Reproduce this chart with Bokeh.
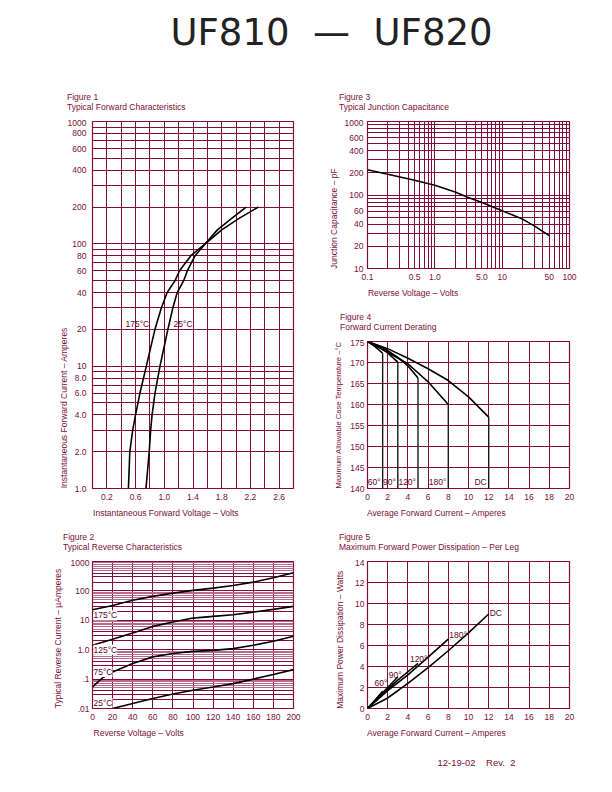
from bokeh.plotting import figure
from bokeh.models import Range1d, FixedTicker, CustomJSTickFormatter, Label, Grid, Div
from bokeh.layouts import column, row
from bokeh.embed import file_html
from bokeh.resources import INLINE
from bokeh.core.properties import value

LINE = "#800a38"
MINOR = "#b86a8c"
TXT = "#7a0f3a"
FONT = "Liberation Sans"
FS = "8.5px"

# ---------------- Figure 1: Typical Forward Characteristics ----------------
f1_current = [1, 2, 3, 4, 6, 10, 20, 30, 40, 50, 60, 80, 100, 130, 160, 200]
f1_v_175 = [0.50, 0.52, 0.56, 0.60, 0.66, 0.75, 0.87, 0.96, 1.04, 1.15, 1.21, 1.37, 1.57, 1.80, 2.03, 2.31]
f1_v_25 = [0.745, 0.79, 0.81, 0.83, 0.87, 0.94, 1.05, 1.12, 1.18, 1.27, 1.32, 1.43, 1.57, 1.74, 1.93, 2.14]
f1_curve_labels = ["175°C", "25°C"]
f1_xticks = [0.2, 0.6, 1.0, 1.4, 1.8, 2.2, 2.6]
f1_xlabels = ["0.2", "0.6", "1.0", "1.4", "1.8", "2.2", "2.6"]
f1_yticks = [1, 2, 4, 6, 8, 10, 20, 40, 60, 80, 100, 200, 400, 600, 800, 1000]
f1_ylabels = ["1.0", "2.0", "4.0", "6.0", "8.0", "10", "20", "40", "60", "80", "100", "200", "400", "600", "800", "1000"]

# ---------------- Figure 2: Typical Reverse Characteristics ----------------
f2_volts = [0, 20, 40, 60, 80, 100, 120, 140, 160, 180, 200]
f2_i_175 = [23, 32, 48, 65, 84, 104, 124, 153, 199, 279, 412]
f2_i_125 = [1.41, 2.25, 3.7, 6.2, 8.7, 11.9, 13.6, 15.5, 19, 23.5, 29.7]
f2_volts_75 = [0, 10, 20, 40, 60, 80, 100, 120, 140, 160, 180, 200]
f2_i_75 = [0.054, 0.11, 0.175, 0.34, 0.57, 0.74, 0.88, 0.95, 1.09, 1.41, 1.93, 2.85]
f2_volts_25 = [20, 40, 60, 80, 100, 120, 140, 160, 180, 200]
f2_i_25 = [0.010, 0.0148, 0.0218, 0.031, 0.042, 0.054, 0.07, 0.10, 0.143, 0.21]
f2_curve_labels = ["175°C", "125°C", "75°C", "25°C"]
f2_xticks = [0, 20, 40, 60, 80, 100, 120, 140, 160, 180, 200]
f2_xlabels = ["0", "20", "40", "60", "80", "100", "120", "140", "160", "180", "200"]
f2_yticks = [0.01, 0.1, 1, 10, 100, 1000]
f2_ylabels = [".01", ".1", "1.0", "10", "100", "1000"]

# ---------------- Figure 3: Typical Junction Capacitance ----------------
f3_volts = [0.1, 0.2, 0.5, 1.0, 2.0, 3.0, 5.0, 10, 20, 30, 50]
f3_cap = [220, 192, 159, 136, 110, 94, 79, 61, 47, 38, 28]
f3_xticks = [0.1, 0.5, 1, 5, 10, 50, 100]
f3_xlabels = ["0.1", "0.5", "1.0", "5.0", "10", "50", "100"]
f3_yticks = [10, 20, 40, 60, 100, 200, 400, 600, 1000]
f3_ylabels = ["10", "20", "40", "60", "100", "200", "400", "600", "1000"]

# ---------------- Figure 4: Forward Current Derating ----------------
f4_dc_x = [0, 2, 4, 6, 8, 10, 12]
f4_dc_y = [175, 173.3, 171.0, 168.5, 165.7, 161.8, 157.0]
f4_180_x = [0, 2, 4, 6, 8]
f4_180_y = [175, 172.4, 169.7, 165.4, 160.0]
f4_120_x = [0, 1, 2, 3, 4, 5]
f4_120_y = [175, 174.0, 172.8, 171.2, 169.2, 166.3]
f4_90_x = [0, 1, 2, 3]
f4_90_y = [175, 173.9, 172.3, 170.1]
f4_60_x = [0, 0.75, 1.5]
f4_60_y = [175, 173.8, 172.2]
f4_curve_labels = ["60°", "90°", "120°", "180°", "DC"]
f4_xticks = [0, 2, 4, 6, 8, 10, 12, 14, 16, 18, 20]
f4_xlabels = ["0", "2", "4", "6", "8", "10", "12", "14", "16", "18", "20"]
f4_yticks = [140, 145, 150, 155, 160, 165, 170, 175]
f4_ylabels = ["140", "145", "150", "155", "160", "165", "170", "175"]

# ---------------- Figure 5: Maximum Forward Power Dissipation ----------------
f5_dc_x = [0, 2, 4, 6, 8, 10, 12]
f5_dc_y = [0, 1.0, 2.4, 3.9, 5.5, 7.2, 9.0]
f5_180_x = [0, 2, 4, 6, 8]
f5_180_y = [0, 1.7, 3.2, 4.9, 6.6]
f5_120_x = [0, 1, 2, 3, 4, 5]
f5_120_y = [0, 0.95, 1.85, 2.7, 3.5, 4.3]
f5_90_x = [0, 1, 2, 3]
f5_90_y = [0, 1.0, 2.0, 3.0]
f5_60_x = [0, 0.75, 1.5]
f5_60_y = [0, 0.8, 1.65]
f5_curve_labels = ["60°", "90°", "120°", "180°", "DC"]
f5_xticks = [0, 2, 4, 6, 8, 10, 12, 14, 16, 18, 20]
f5_xlabels = ["0", "2", "4", "6", "8", "10", "12", "14", "16", "18", "20"]
f5_yticks = [0, 2, 4, 6, 8, 10, 12, 14]
f5_ylabels = ["0", "2", "4", "6", "8", "10", "12", "14"]

# Arial / Liberation Sans advance widths (1/1000 em), used to pad axis labels
ADV = {" ": 278, "\u00a0": 278, "\u2013": 556, "\u00b0": 400, "\u03bc": 576,
       "A": 667, "C": 722, "F": 611, "I": 278, "J": 500, "L": 556, "M": 833, "P": 667,
       "R": 722, "T": 611, "V": 667, "W": 944, "a": 556, "b": 556, "c": 500, "d": 556,
       "e": 556, "f": 278, "g": 556, "h": 556, "i": 222, "j": 222, "k": 500, "l": 222,
       "m": 833, "n": 556, "o": 556, "p": 556, "r": 333, "s": 500, "t": 278, "u": 556,
       "v": 500, "w": 722, "x": 500, "y": 500, "z": 500}


def text_w(s, size=8.5):
    return sum(ADV.get(c, 556) for c in s) * size / 1000.0


def pad(s, span, size=8.5):
    n = max(0, int(round((span - text_w(s, size)) / text_w("\u00a0", size))))
    return s + "\u00a0" * n


def log_grid(lo_exp, hi_exp, mults=range(1, 10)):
    vals = []
    for e in range(lo_exp, hi_exp):
        for m in mults:
            vals.append(m * 10.0 ** e)
    if 1 in mults:
        vals.append(10.0 ** hi_exp)
    return vals


def fmt(ticks, labels):
    return CustomJSTickFormatter(args=dict(t=ticks, l=labels),
                                 code="const i = t.indexOf(tick); return i >= 0 ? l[i] : '';")


STRIP_H = 31


def strip(W, title_x, fig_no, subtitle):
    html = (f'<div style="position:relative;width:{W}px;height:{STRIP_H}px;'
            f"font-family:'Liberation Sans',sans-serif;font-size:8.5px;line-height:10px;color:{TXT};\">"
            f'<div style="position:absolute;left:{title_x}px;top:4px;white-space:nowrap;">{fig_no}</div>'
            f'<div style="position:absolute;left:{title_x}px;top:13.5px;white-space:nowrap;">{subtitle}</div>'
            f'</div>')
    return Div(text=html, width=W, height=STRIP_H, margin=(0, 0, 0, 0))


def panel(W, left, fw, fh, xr, yr, x_type, y_type, xticks, xlabels, yticks, ylabels,
          xgrid, ygrid, xlabel, ylabel, ylab_standoff, ytick_standoff, top=2, bottom=40,
          ylab_size=8.5):
    p = figure(frame_width=fw, frame_height=fh, x_axis_type=x_type, y_axis_type=y_type,
               x_range=Range1d(*xr), y_range=Range1d(*yr), toolbar_location=None,
               output_backend="svg", title=None,
               min_border_left=left, min_border_right=W - left - fw,
               min_border_top=top, min_border_bottom=bottom,
               outline_line_color=LINE, outline_line_width=1.2,
               background_fill_color="white", border_fill_color="white")
    for ax, ticks, labels, lab, span, size in ((p.xaxis[0], xticks, xlabels, xlabel, fw, 8.5),
                                               (p.yaxis[0], yticks, ylabels, ylabel, fh, ylab_size)):
        ax.ticker = FixedTicker(ticks=ticks)
        ax.formatter = fmt(ticks, labels)
        ax.axis_label = pad(lab, span, size)
        ax.major_tick_line_color = None
        ax.minor_tick_line_color = None
        ax.major_tick_out = 0
        ax.major_tick_in = 0
        ax.axis_line_color = None
        ax.major_label_text_font = FONT
        ax.major_label_text_font_size = FS
        ax.major_label_text_color = TXT
        ax.axis_label_text_font = FONT
        ax.axis_label_text_font_size = f"{size}px"
        ax.axis_label_text_font_style = "normal"
        ax.axis_label_text_color = TXT
    p.xaxis[0].major_label_standoff = 5
    p.xaxis[0].axis_label_standoff = 5
    p.yaxis[0].major_label_standoff = ytick_standoff
    p.yaxis[0].axis_label_standoff = ylab_standoff
    p.xgrid.ticker = FixedTicker(ticks=xgrid)
    p.ygrid.ticker = FixedTicker(ticks=ygrid)
    for g in (p.xgrid, p.ygrid):
        g.grid_line_color = LINE
        g.grid_line_alpha = 1.0
        g.grid_line_width = 1.0
    return p


CURVE = dict(line_color="black", line_width=1.6)
TEXTSTYLE = dict(text_font=value(FONT), text_font_size=FS, text_color="#5a0a2a")

# ---------------- header ----------------
header = figure(width=604, height=88, x_range=Range1d(0, 604), y_range=Range1d(88, 0),
                toolbar_location=None, output_backend="svg", min_border=0, title=None,
                outline_line_color=None)
header.axis.visible = False
header.grid.visible = False
header.add_layout(Label(x=331, y=31.5, text="UF810\u00a0\u00a0\u2014\u00a0\u00a0UF820",
                        text_align="center", text_baseline="middle",
                        text_font="DejaVu Sans", text_font_size="37px", text_color="#222222"))

# ---------------- Figure 1 ----------------
s1 = strip(308, 67, "Figure 1", "Typical Forward Characteristics")
f1 = panel(308, 92, 201, 367, (0, 2.8), (1, 1000), "linear", "log",
           f1_xticks, f1_xlabels, f1_yticks, f1_ylabels,
           [0.2 * k for k in range(15)], log_grid(0, 3),
           "Instantaneous Forward Voltage \u2013 Volts",
           "Instantaneous Forward Current \u2013 Amperes", -4, 6)
f1.line(f1_v_175, f1_current, **CURVE)
f1.line(f1_v_25, f1_current, **CURVE)
f1.text(x=[0.46, 1.13], y=[f1_current[6], f1_current[6]], text=f1_curve_labels,
        text_align="left", text_baseline="bottom", **TEXTSTYLE)

# ---------------- Figure 3 ----------------
s3 = strip(296, 31, "Figure 3", "Typical Junction Capacitance")
f3 = panel(296, 59, 202, 147, (0.1, 100), (10, 1000), "log", "log",
           f3_xticks, f3_xlabels, f3_yticks, f3_ylabels,
           log_grid(-1, 2), log_grid(1, 3),
           "Reverse Voltage \u2013 Volts", "Junction Capacitance \u2013 pF", 3, 4)
f3.line(f3_volts, f3_cap, **CURVE)

# ---------------- Figure 4 ----------------
s4 = strip(296, 32, "Figure 4", "Forward Current Derating")
f4 = panel(296, 59, 202, 147, (0, 20), (140, 175), "linear", "linear",
           f4_xticks, f4_xlabels, f4_yticks, f4_ylabels,
           f4_xticks, f4_yticks,
           "Average Forward Current \u2013 Amperes",
           "Maximum Allowable Case Temperature \u2013\u00b0C", 4, 3, ylab_size=7.6)
f4_series = [(f4_60_x, f4_60_y), (f4_90_x, f4_90_y), (f4_120_x, f4_120_y),
             (f4_180_x, f4_180_y), (f4_dc_x, f4_dc_y)]
for xs, ys in f4_series:
    f4.line(xs, ys, **CURVE)
ends_x = [s[0][-1] for s in f4_series]
ends_y = [s[1][-1] for s in f4_series]
f4.segment(x0=ends_x, y0=ends_y, x1=ends_x, y1=[f4_yticks[0]] * len(ends_x),
           line_color="#1a1a1a", line_width=1.4)
f4.text(x=ends_x, y=[141.6] * len(ends_x), text=f4_curve_labels, text_align="right",
        text_baseline="middle", x_offset=-2, **TEXTSTYLE)

# ---------------- Figure 2 ----------------
s2 = strip(308, 63, "Figure 2", "Typical Reverse Characteristics")
f2 = panel(308, 92, 201, 147, (0, 200), (0.01, 1000), "linear", "log",
           f2_xticks, f2_xlabels, f2_yticks, f2_ylabels,
           f2_xticks, log_grid(-2, 3, [1, 2, 3, 4]),
           "Reverse Voltage \u2013 Volts", "Typical Reverse Current \u2013 \u03bcAmperes", 5, 3)
f2.add_layout(Grid(dimension=1, ticker=FixedTicker(ticks=log_grid(-2, 3, [5, 6, 7, 8, 9])),
                   grid_line_color=MINOR, grid_line_width=1.0))
f2.line(f2_volts, f2_i_175, **CURVE)
f2.line(f2_volts, f2_i_125, **CURVE)
f2.line(f2_volts_75, f2_i_75, **CURVE)
f2.line(f2_volts_25, f2_i_25, **CURVE)
for txt, yv in zip(f2_curve_labels, [14.7, 1.0, 0.175, 0.0155]):
    f2.add_layout(Label(x=0, y=yv, text=txt, x_offset=1, text_align="left",
                        text_baseline="middle", text_font=FONT, text_font_size=FS,
                        text_color="#5a0a2a", background_fill_color="white"))

# ---------------- Figure 5 ----------------
s5 = strip(296, 31, "Figure 5", "Maximum Forward Power Dissipation \u2013 Per Leg")
f5 = panel(296, 59, 202, 147, (0, 20), (0, 14), "linear", "linear",
           f5_xticks, f5_xlabels, f5_yticks, f5_ylabels,
           f5_xticks, f5_yticks,
           "Average Forward Current \u2013 Amperes",
           "Maximum Power Dissipation \u2013 Watts", 7, 3)
f5_series = [(f5_60_x, f5_60_y), (f5_90_x, f5_90_y), (f5_120_x, f5_120_y),
             (f5_180_x, f5_180_y), (f5_dc_x, f5_dc_y)]
for xs, ys in f5_series:
    f5.line(xs, ys, **CURVE)
f5.text(x=[0.7, 2.1, 4.2, 8.1, 12.1], y=[2.4, 3.2, 4.7, 7.0, 9.1], text=f5_curve_labels,
        text_align="left", text_baseline="middle", **TEXTSTYLE)

# ---------------- footer ----------------
footer = figure(width=604, height=36, x_range=Range1d(0, 604), y_range=Range1d(36, 0),
                toolbar_location=None, output_backend="svg", min_border=0, title=None,
                outline_line_color=None)
footer.axis.visible = False
footer.grid.visible = False
footer.add_layout(Label(x=437, y=14, text="12-19-02\u00a0\u00a0\u00a0\u00a0Rev.\u00a0\u00a02",
                        text_align="left", text_baseline="middle", text_font=FONT,
                        text_font_size="9.5px", text_color=TXT))

layout = column(header,
                row(column(s1, f1), column(s3, f3, s4, f4)),
                row(column(s2, f2), column(s5, f5)),
                footer)
open("out.html", "w").write(file_html(layout, INLINE))
